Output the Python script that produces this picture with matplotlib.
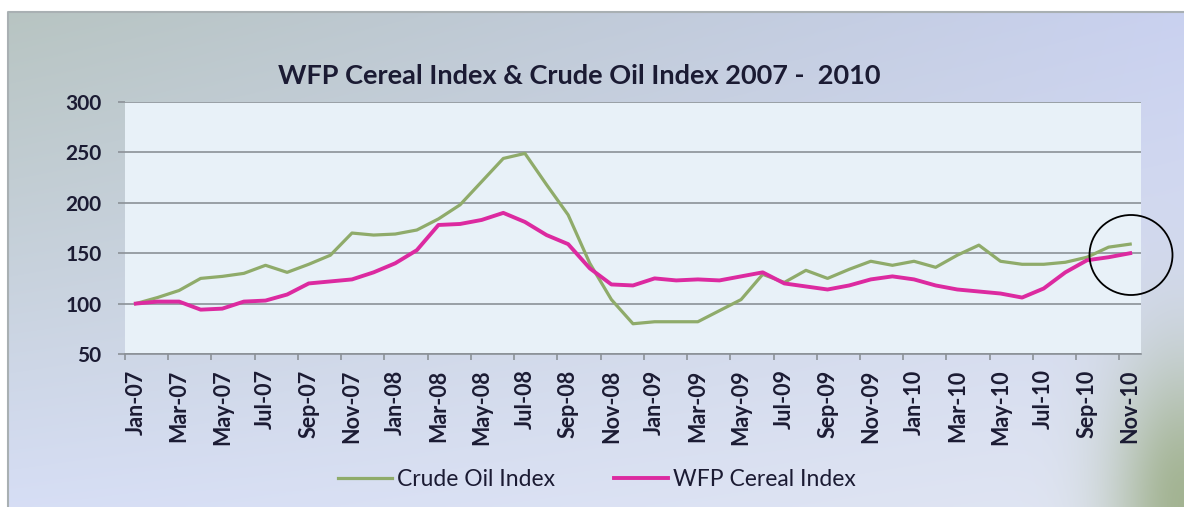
import numpy as np
import matplotlib
matplotlib.use('Agg')
import matplotlib.pyplot as plt
from matplotlib.patches import Ellipse

# font close to the Calibri look of the original slide
plt.rcParams['font.family'] = ['Lato', 'DejaVu Sans']

# monthly categories Jan-07 .. Nov-10
month_names = ['Jan', 'Feb', 'Mar', 'Apr', 'May', 'Jun',
               'Jul', 'Aug', 'Sep', 'Oct', 'Nov', 'Dec']
years = ['07', '08', '09', '10']
labels = [f'{m}-{y}' for y in years for m in month_names][:47]

# index values (Jan-07 = 100)
crude_oil = [100, 106, 113, 125, 127, 130, 138, 131, 139, 148, 170, 168,
             169, 173, 184, 198, 221, 244, 249, 218, 188, 140, 104, 80,
             82, 82, 82, 93, 104, 129, 121, 133, 125, 134, 142, 138,
             142, 136, 148, 158, 142, 139, 139, 141, 146, 156, 159]
wfp_cereal = [100, 102, 102, 94, 95, 102, 103, 109, 120, 122, 124, 131,
              140, 153, 178, 179, 183, 190, 181, 168, 159, 135, 119, 118,
              125, 123, 124, 123, 127, 131, 120, 117, 114, 118, 124, 127,
              124, 118, 114, 112, 110, 106, 115, 131, 143, 146, 150]
y_ticks = [50, 100, 150, 200, 250, 300]

title = 'WFP Cereal Index & Crude Oil Index 2007 -  2010'
text_color = '#1b1b33'
grid_color = '#8b9197'

W, H = 1184, 507
fig = plt.figure(figsize=(W / 100, H / 100), dpi=100)
fig.patch.set_facecolor('white')

# slide background: soft grey / lavender gradient with a green corner
bg = fig.add_axes([0, 0, 1, 1])
bg.set_xlim(0, W)
bg.set_ylim(H, 0)
bg.axis('off')
u = np.linspace(0, 1, 400)[None, :]
v = np.linspace(0, 1, 200)[:, None]
tl = np.array([0.72, 0.77, 0.76])
tr = np.array([0.79, 0.82, 0.94])
bl = np.array([0.84, 0.87, 0.96])
br = np.array([0.88, 0.90, 0.95])
grad = ((1 - u)[..., None] * (1 - v)[..., None] * tl + u[..., None] * (1 - v)[..., None] * tr
        + (1 - u)[..., None] * v[..., None] * bl + u[..., None] * v[..., None] * br)
w = 0.75 * np.exp(-(((1 - u) / 0.06) ** 2 + ((1 - v) / 0.3) ** 2))[..., None]
grad = grad * (1 - w) + np.array([0.56, 0.64, 0.45]) * w
bg.imshow(grad, extent=[8, W, H, 12], aspect='auto', interpolation='bilinear')
bg.plot([8, 8, W], [H, 12, 12], color='#a9b0b3', lw=1.5)

# chart area
ax = fig.add_axes([125 / W, 1 - 354 / H, (1141 - 125) / W, (354 - 102) / H])
ax.set_facecolor('#e8f1f8')
x = np.arange(len(crude_oil))
ax.plot(x, crude_oil, color='#8fab6a', lw=2.3, label='Crude Oil Index', zorder=3)
ax.plot(x, wfp_cereal, color='#dc2aa0', lw=2.8, label='WFP Cereal Index', zorder=4)
ax.set_xlim(-0.5, len(crude_oil) - 0.5)
ax.set_ylim(y_ticks[0], y_ticks[-1])

ax.set_yticks(y_ticks)
ax.yaxis.grid(True, color=grid_color, lw=1.2)
ax.set_axisbelow(True)
for side in ['top', 'right', 'left']:
    ax.spines[side].set_visible(False)
ax.spines['bottom'].set_color(grid_color)
ax.spines['bottom'].set_linewidth(1.2)

# labels every second month, tick marks on the category boundaries
ax.set_xticks(x[::2])
ax.set_xticklabels(labels[::2], rotation=90, fontweight='bold', fontsize=15.5, color=text_color)
ax.set_xticks(x[::2] - 0.5, minor=True)
ax.tick_params(axis='x', which='major', length=0, pad=11)
ax.tick_params(axis='x', which='minor', length=4, color=grid_color, width=1.2)
ax.tick_params(axis='y', length=5, color=grid_color, width=1.2, pad=12,
               labelsize=15, labelcolor=text_color)
for t in ax.get_yticklabels():
    t.set_fontweight('bold')

fig.text(579 / W, 1 - 76 / H, title, ha='center', va='center',
         fontsize=19.5, fontweight='bold', color=text_color)

fig.legend(loc='center', bbox_to_anchor=(597 / W, 1 - 480 / H), ncol=2, frameon=False,
           fontsize=16.5, handlelength=2.35, handletextpad=0.2, columnspacing=2.6,
           labelcolor=text_color)

# hand drawn circle around the last months
fig.add_artist(Ellipse((1131 / W, 1 - 255 / H), 83 / W, 80 / H, transform=fig.transFigure,
                       fill=False, ec='black', lw=1.3))

fig.savefig('out.png', dpi=100)
